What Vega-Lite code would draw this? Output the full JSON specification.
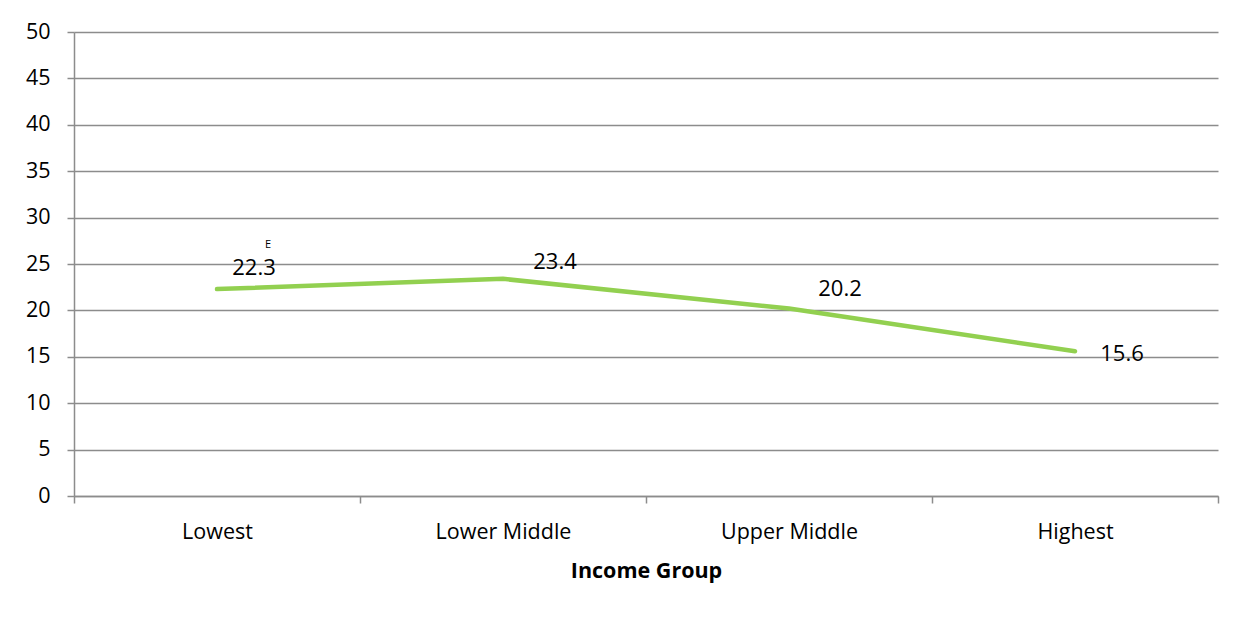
{
  "$schema": "https://vega.github.io/schema/vega-lite/v6.json",
  "width": 1144,
  "height": 464,
  "autosize": "none",
  "padding": {"left": 74, "top": 32, "right": 28, "bottom": 121},
  "background": "white",
  "config": {
    "view": {"stroke": null},
    "font": "Open Sans",
    "axis": {"labelFont": "Open Sans", "titleFont": "Open Sans", "labelColor": "#000000", "titleColor": "#000000"}
  },
  "data": {
    "values": [
      {"group": "Lowest", "value": 22.3, "label": "22.3", "flag": "E"},
      {"group": "Lower Middle", "value": 23.4, "label": "23.4", "flag": ""},
      {"group": "Upper Middle", "value": 20.2, "label": "20.2", "flag": ""},
      {"group": "Highest", "value": 15.6, "label": "15.6", "flag": ""}
    ]
  },
  "encoding": {
    "x": {
      "field": "group",
      "type": "nominal",
      "sort": ["Lowest", "Lower Middle", "Upper Middle", "Highest"],
      "scale": {"paddingInner": 0, "paddingOuter": 0},
      "axis": {
        "title": "Income Group",
        "titleFontSize": 21.5,
        "titleFontWeight": "bold",
        "titlePadding": 18,
        "labelFontSize": 21.5,
        "labelAngle": 0,
        "labelPadding": 18,
        "tickBand": "extent",
        "tickSize": 7,
        "tickColor": "#8c8c8c",
        "tickWidth": 1.5,
        "domainColor": "#8c8c8c",
        "domainWidth": 1.5,
        "grid": false
      }
    },
    "y": {
      "field": "value",
      "type": "quantitative",
      "scale": {"domain": [0, 50], "nice": false},
      "axis": {
        "title": null,
        "values": [0, 5, 10, 15, 20, 25, 30, 35, 40, 45, 50],
        "labelFontSize": 21.5,
        "labelPadding": 17,
        "tickSize": 7,
        "tickColor": "#8c8c8c",
        "tickWidth": 1.5,
        "domainColor": "#8c8c8c",
        "domainWidth": 1.5,
        "grid": true,
        "gridColor": "#8c8c8c",
        "gridWidth": 1.5
      }
    }
  },
  "layer": [
    {"mark": {"type": "line", "color": "#92D050", "strokeWidth": 4.5, "strokeCap": "round", "strokeJoin": "round"}},
    {
      "transform": [{"filter": "datum.group === 'Lowest'"}],
      "mark": {"type": "text", "fontSize": 22, "dx": 37, "dy": -21, "color": "#000000"},
      "encoding": {"text": {"field": "label"}}
    },
    {
      "transform": [{"filter": "datum.group === 'Lowest'"}],
      "mark": {"type": "text", "fontSize": 11, "dx": 51, "dy": -44, "color": "#000000"},
      "encoding": {"text": {"field": "flag"}}
    },
    {
      "transform": [{"filter": "datum.group === 'Lower Middle'"}],
      "mark": {"type": "text", "fontSize": 22, "dx": 52, "dy": -17, "color": "#000000"},
      "encoding": {"text": {"field": "label"}}
    },
    {
      "transform": [{"filter": "datum.group === 'Upper Middle'"}],
      "mark": {"type": "text", "fontSize": 22, "dx": 51, "dy": -20, "color": "#000000"},
      "encoding": {"text": {"field": "label"}}
    },
    {
      "transform": [{"filter": "datum.group === 'Highest'"}],
      "mark": {"type": "text", "fontSize": 22, "dx": 47, "dy": 3, "color": "#000000"},
      "encoding": {"text": {"field": "label"}}
    }
  ]
}
